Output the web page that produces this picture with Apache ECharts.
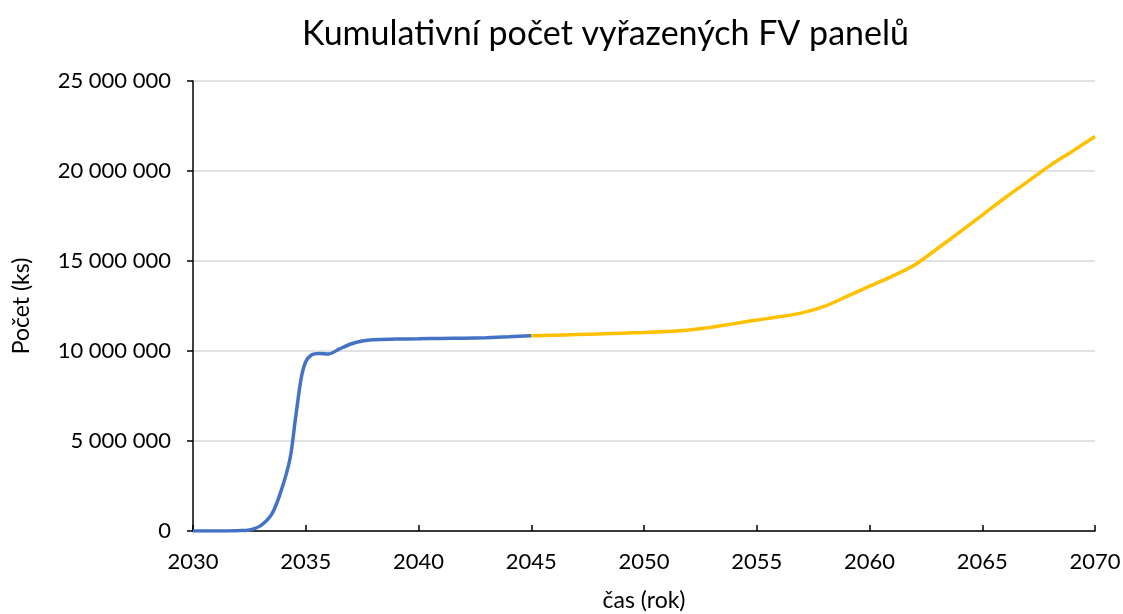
<!DOCTYPE html>
<html>
<head>
<meta charset="utf-8">
<script src="https://cdn.jsdelivr.net/npm/echarts@6/dist/echarts.min.js"></script>
<style>html,body{margin:0;padding:0;background:#fff}#c{width:1123px;height:614px}</style>
</head>
<body>
<div id="c"></div>
<script>
// Blue series (first phase): [year, count]
var blueYears = [2030, 2031, 2032, 2032.5, 2033, 2033.5, 2033.9, 2034.3, 2034.55, 2034.8, 2035, 2035.25, 2035.6, 2036, 2036.5, 2037, 2037.5, 2038, 2039, 2040, 2041, 2042, 2043, 2044, 2045];
var blueValues = [0, 0, 20000, 60000, 300000, 950000, 2200000, 4000000, 6300000, 8500000, 9400000, 9780000, 9860000, 9830000, 10120000, 10390000, 10560000, 10630000, 10660000, 10680000, 10700000, 10710000, 10740000, 10790000, 10850000];
// Yellow series (second phase)
var yellowYears = [2045, 2046, 2047, 2048, 2049, 2050, 2051, 2052, 2053, 2054, 2055, 2056, 2057, 2058, 2059, 2060, 2061, 2062, 2063, 2064, 2065, 2066, 2067, 2068, 2069, 2070];
var yellowValues = [10850000, 10880000, 10910000, 10950000, 10990000, 11030000, 11080000, 11170000, 11320000, 11520000, 11720000, 11900000, 12120000, 12480000, 13030000, 13600000, 14150000, 14780000, 15680000, 16600000, 17550000, 18500000, 19400000, 20300000, 21100000, 21920000];
var xTicks = [2030, 2035, 2040, 2045, 2050, 2055, 2060, 2065, 2070];
var yTicks = [0, 5000000, 10000000, 15000000, 20000000, 25000000];

function zip(a, b) { return a.map(function (v, i) { return [v, b[i]]; }); }
function fmt(v) { return String(Math.round(v)).replace(/\B(?=(\d{3})+(?!\d))/g, ' '); }

var FONT = 'Lato';
var chart = echarts.init(document.getElementById('c'), null, {renderer: 'canvas'});
chart.setOption({
  animation: false,
  backgroundColor: '#ffffff',
  textStyle: {fontFamily: FONT},
  title: {
    text: 'Kumulativní počet vyřazených FV panelů',
    left: 297, top: 12,
    textStyle: {fontFamily: FONT, fontSize: 34, fontWeight: 'normal', color: '#000'}
  },
  grid: {left: 193, right: 28, top: 81, bottom: 83, containLabel: false, outerBoundsMode: 'none'},
  xAxis: {
    type: 'value', min: xTicks[0], max: xTicks[xTicks.length - 1], interval: 5,
    name: 'čas (rok)', nameLocation: 'middle', nameGap: 58,
    nameTextStyle: {fontFamily: FONT, fontSize: 23, color: '#000'},
    axisLine: {show: true, lineStyle: {color: '#000', width: 1.5}},
    axisTick: {show: true, inside: true, length: 6, lineStyle: {color: '#000', width: 1.5}},
    axisLabel: {fontFamily: FONT, fontSize: 22, color: '#000', margin: 20, formatter: function (v) { return String(v); }},
    splitLine: {show: false}
  },
  yAxis: {
    type: 'value', min: yTicks[0], max: yTicks[yTicks.length - 1], interval: 5000000,
    name: 'Počet (ks)', nameLocation: 'middle', nameGap: 160, nameRotate: 90,
    nameTextStyle: {fontFamily: FONT, fontSize: 23, color: '#000'},
    axisLine: {show: true, lineStyle: {color: '#000', width: 1.5}},
    axisTick: {show: true, inside: false, length: 6, lineStyle: {color: '#000', width: 1.5}},
    axisLabel: {fontFamily: FONT, fontSize: 22, color: '#000', margin: 22, formatter: fmt},
    splitLine: {show: true, lineStyle: {color: '#d9d9d9', width: 1.5}}
  },
  series: [
    {type: 'line', data: zip(blueYears, blueValues), showSymbol: false, smooth: 0.3,
     lineStyle: {color: '#4472C4', width: 3.5}, itemStyle: {color: '#4472C4'}, z: 3},
    {type: 'line', data: zip(yellowYears, yellowValues), showSymbol: false, smooth: 0.3,
     lineStyle: {color: '#FFC000', width: 3.5}, itemStyle: {color: '#FFC000'}, z: 2}
  ]
});
</script>
</body>
</html>
